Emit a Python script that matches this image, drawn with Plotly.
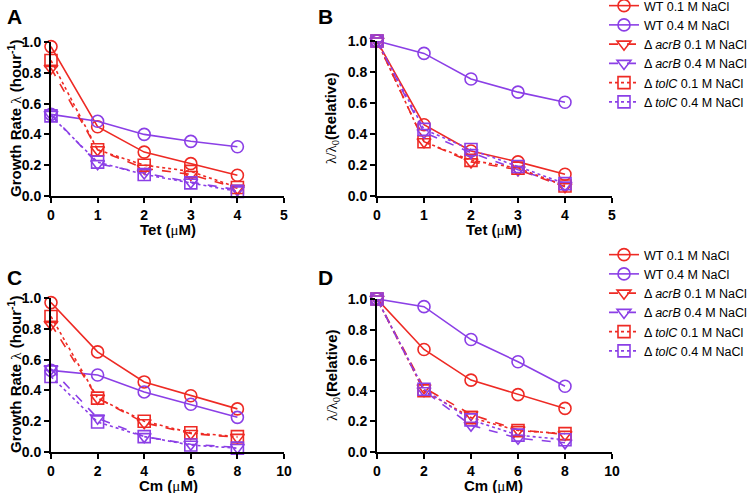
import plotly.graph_objects as go

# ---------------- data ----------------
tet_x = [0, 1, 2, 3, 4]
cm_x = [0, 2, 4, 6, 8]

series_names = [
    "WT 0.1 M NaCl",
    "WT 0.4 M NaCl",
    "Δ <i>acrB</i> 0.1 M NaCl",
    "Δ <i>acrB</i> 0.4 M NaCl",
    "Δ <i>tolC</i> 0.1 M NaCl",
    "Δ <i>tolC</i> 0.4 M NaCl",
]

# Panel A: growth rate vs Tet
a_wt01 = [0.97, 0.45, 0.285, 0.21, 0.135]
a_wt04 = [0.53, 0.485, 0.40, 0.355, 0.32]
a_acr01 = [0.83, 0.30, 0.18, 0.14, 0.05]
a_acr04 = [0.53, 0.21, 0.15, 0.09, 0.04]
a_tol01 = [0.88, 0.30, 0.20, 0.16, 0.055]
a_tol04 = [0.52, 0.22, 0.14, 0.085, 0.03]

# Panel B: relative growth vs Tet
b_wt01 = [1.0, 0.46, 0.29, 0.22, 0.14]
b_wt04 = [1.0, 0.92, 0.755, 0.67, 0.605]
b_acr01 = [1.0, 0.35, 0.22, 0.17, 0.06]
b_acr04 = [1.0, 0.41, 0.28, 0.17, 0.07]
b_tol01 = [1.0, 0.35, 0.23, 0.18, 0.065]
b_tol04 = [1.0, 0.43, 0.30, 0.19, 0.08]

# Panel C: growth rate vs Cm
c_wt01 = [0.97, 0.65, 0.455, 0.365, 0.28]
c_wt04 = [0.53, 0.50, 0.39, 0.31, 0.225]
c_acr01 = [0.83, 0.35, 0.19, 0.12, 0.095]
c_acr04 = [0.54, 0.22, 0.10, 0.05, 0.03]
c_tol01 = [0.88, 0.35, 0.20, 0.125, 0.10]
c_tol04 = [0.49, 0.195, 0.10, 0.045, 0.025]

# Panel D: relative growth vs Cm
d_wt01 = [1.0, 0.67, 0.47, 0.375, 0.285]
d_wt04 = [1.0, 0.95, 0.735, 0.59, 0.43]
d_acr01 = [1.0, 0.42, 0.245, 0.145, 0.115]
d_acr04 = [1.0, 0.40, 0.175, 0.09, 0.06]
d_tol01 = [1.0, 0.40, 0.225, 0.14, 0.12]
d_tol04 = [1.0, 0.41, 0.21, 0.11, 0.08]

y_ticks = [0.0, 0.2, 0.4, 0.6, 0.8, 1.0]
tet_ticks = [0, 1, 2, 3, 4, 5]
cm_ticks = [0, 2, 4, 6, 8, 10]

# ---------------- styles ----------------
RED = "#EE2A24"
PURPLE = "#8B3FE6"
colors = [RED, PURPLE, RED, PURPLE, RED, PURPLE]
symbols = ["circle-open", "circle-open", "triangle-down-open", "triangle-down-open",
           "square-open", "square-open"]
dashes = ["solid", "solid", "dash", "dash", "dot", "dot"]
FONT = "Arial, Liberation Sans, sans-serif"
SERIF = "Liberation Serif, Times New Roman, serif"

fig = go.Figure()

panels = [
    ("x", "y", tet_x, [a_wt01, a_wt04, a_acr01, a_acr04, a_tol01, a_tol04], "legend"),
    ("x2", "y2", tet_x, [b_wt01, b_wt04, b_acr01, b_acr04, b_tol01, b_tol04], None),
    ("x3", "y3", cm_x, [c_wt01, c_wt04, c_acr01, c_acr04, c_tol01, c_tol04], "legend2"),
    ("x4", "y4", cm_x, [d_wt01, d_wt04, d_acr01, d_acr04, d_tol01, d_tol04], None),
]

for xa, ya, xs, ys_list, leg in panels:
    for i, ys in enumerate(ys_list):
        fig.add_trace(go.Scatter(
            x=xs, y=ys, xaxis=xa, yaxis=ya,
            mode="lines+markers",
            name=series_names[i],
            line=dict(color=colors[i], width=1.6, dash=dashes[i]),
            marker=dict(symbol=symbols[i], size=12, color=colors[i],
                        line=dict(color=colors[i], width=1.6)),
            cliponaxis=False,
            showlegend=leg is not None,
            legend=leg if leg else "legend",
        ))

axis_common = dict(
    showline=True, linecolor="black", linewidth=2,
    ticks="outside", tickcolor="black", tickwidth=2, ticklen=5,
    showgrid=False, zeroline=False,
    tickfont=dict(family=FONT, size=14, color="black", weight="bold"),
)

W, H = 750, 493

def px_x(a, b):
    return [a / W, b / W]

def px_y(top, bottom):
    return [1 - bottom / H, 1 - top / H]

leg_font = dict(family=FONT, size=12.5, color="black")

fig.update_layout(
    width=W, height=H,
    margin=dict(l=0, r=0, t=0, b=0, autoexpand=False),
    paper_bgcolor="white", plot_bgcolor="white",
    font=dict(family=FONT, color="black"),
    xaxis=dict(domain=px_x(51, 284), range=[0, 5], tickvals=tet_ticks, anchor="y", **axis_common),
    yaxis=dict(domain=px_y(42, 196), range=[0, 1], tickvals=y_ticks, tickformat=".1f", anchor="x", **axis_common),
    xaxis2=dict(domain=px_x(377, 612), range=[0, 5], tickvals=tet_ticks, anchor="y2", **axis_common),
    yaxis2=dict(domain=px_y(41, 196), range=[0, 1], tickvals=y_ticks, tickformat=".1f", anchor="x2", **axis_common),
    xaxis3=dict(domain=px_x(51, 284), range=[0, 10], tickvals=cm_ticks, anchor="y3", **axis_common),
    yaxis3=dict(domain=px_y(298, 452), range=[0, 1], tickvals=y_ticks, tickformat=".1f", anchor="x3", **axis_common),
    xaxis4=dict(domain=px_x(377, 612), range=[0, 10], tickvals=cm_ticks, anchor="y4", **axis_common),
    yaxis4=dict(domain=px_y(299, 452), range=[0, 1], tickvals=y_ticks, tickformat=".1f", anchor="x4", **axis_common),
    legend=dict(x=604 / W, y=1 + 9 / H, xanchor="left", yanchor="top",
                font=leg_font, bgcolor="rgba(0,0,0,0)", itemwidth=30, tracegroupgap=0),
    legend2=dict(x=604 / W, y=1 - 240 / H, xanchor="left", yanchor="top",
                 font=leg_font, bgcolor="rgba(0,0,0,0)", itemwidth=30, tracegroupgap=0),
)

# ---------------- text annotations ----------------
ann = []

def add_text(text, x, y, size=15, angle=0, xanchor="center", yanchor="middle"):
    ann.append(dict(text=text, x=x / W, y=1 - y / H, xref="paper", yref="paper",
                    showarrow=False, textangle=angle, xanchor=xanchor, yanchor=yanchor,
                    font=dict(family=FONT, size=size, color="black")))

lam = '<span style="font-family:%s;font-weight:normal">λ</span>' % SERIF
mu = '<span style="font-family:%s;font-weight:normal">μ</span>' % SERIF
rel = ('<span style="font-family:%s;font-weight:normal">λ/λ<sub>0</sub></span><b>(Relative)</b>' % SERIF)
gr = '<b>Growth Rate </b>' + lam + '<b> (hour<sup>-1</sup>)</b>'

for letter, x, y in [("A", 14, 17), ("B", 325, 17), ("C", 14, 277), ("D", 325, 277)]:
    add_text("<b>%s</b>" % letter, x, y, size=21)

add_text(gr, 14, 119, angle=-90)
add_text(gr, 14, 375, angle=-90)
add_text(rel, 332, 118, angle=-90)
add_text(rel, 332, 375, angle=-90)
add_text("<b>Tet (</b>" + mu + "<b>M)</b>", 168, 229)
add_text("<b>Tet (</b>" + mu + "<b>M)</b>", 494, 229)
add_text("<b>Cm (</b>" + mu + "<b>M)</b>", 168, 485)
add_text("<b>Cm (</b>" + mu + "<b>M)</b>", 494, 485)

fig.update_layout(annotations=ann)

fig.write_html("out.html", config={"displayModeBar": False},
               post_script="document.body.style.margin='0';document.body.style.padding='0';")
